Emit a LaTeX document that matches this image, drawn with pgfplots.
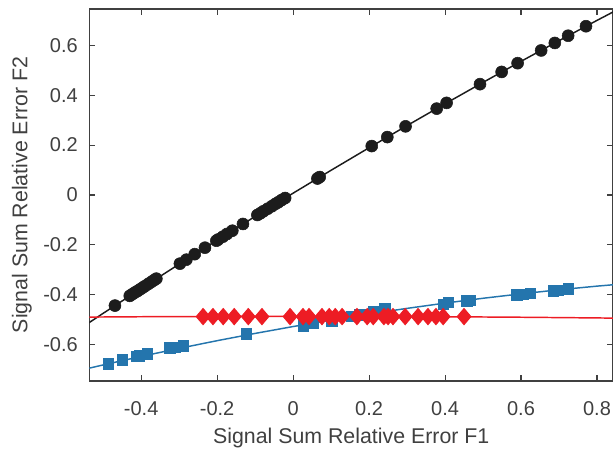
\documentclass[border=0pt]{standalone}
\usepackage{fontspec}
\setmainfont{Liberation Sans}
\usepackage{pgfplots}
\pgfplotsset{compat=1.18}
\definecolor{mblack}{rgb}{0.11,0.11,0.11}
\definecolor{mblue}{rgb}{0.14,0.46,0.68}
\definecolor{mred}{rgb}{0.93,0.11,0.14}
\definecolor{mgray}{rgb}{0.25,0.25,0.25}
\pgfdeclareplotmark{mdiamond}{%
  \pgfpathmoveto{\pgfqpoint{0pt}{\pgfplotmarksize}}%
  \pgfpathlineto{\pgfqpoint{0.85\pgfplotmarksize}{0pt}}%
  \pgfpathlineto{\pgfqpoint{0pt}{-\pgfplotmarksize}}%
  \pgfpathlineto{\pgfqpoint{-0.85\pgfplotmarksize}{0pt}}%
  \pgfpathclose
  \pgfusepathqfillstroke}
\begin{document}
\begin{tikzpicture}
\begin{axis}[
  scale only axis, width=392.6pt, height=279pt,
  at={(0,0)}, anchor=south west,
  xmin=-0.536, xmax=0.842, ymin=-0.745, ymax=0.745,
  xtick={-0.4,-0.2,0,0.2,0.4,0.6,0.8},
  ytick={-0.6,-0.4,-0.2,0,0.2,0.4,0.6},
  tick align=inside, major tick length=4.5pt,
  axis line style={draw=mgray, line width=0.8pt},
  every tick/.style={draw=mgray, line width=0.8pt},
  /pgf/number format/fixed, /pgf/number format/precision=1,
  /pgf/number format/assume math mode=true,
  ticklabel style={font=\fontsize{15}{18}\selectfont, text=mgray},
  xticklabel style={anchor=center, inner sep=0pt, yshift=-20.6pt},
  yticklabel style={anchor=east, inner sep=0pt, xshift=-8.6pt},
  label style={font=\fontsize{16}{19}\selectfont, text=mgray},
  xlabel={Signal Sum Relative Error F1},
  ylabel={Signal Sum Relative Error F2},
  xlabel style={at={(axis description cs:0.5,-0.153)}, anchor=center},
  ylabel style={at={(axis description cs:-0.129,0.5)}, anchor=center},
]
% black fit
\addplot[mblack, line width=1.1pt, no markers] coordinates {
(-0.6,-0.5746) (-0.5,-0.4739) (-0.4,-0.3747) (-0.3,-0.2769) (-0.2,-0.1807)
(-0.1,-0.0860) (0,0.0073) (0.1,0.0991) (0.2,0.1893) (0.3,0.2781)
(0.4,0.3653) (0.5,0.4511) (0.6,0.5354) (0.7,0.6182) (0.8,0.6994) (0.9,0.7792)};
\addplot[only marks, mark=*, mark size=4.5pt, mark options={draw=mblack, fill=mblack}] coordinates {
(-0.469,-0.443) (-0.430,-0.404) (-0.424,-0.398) (-0.417,-0.391) (-0.410,-0.385)
(-0.403,-0.378) (-0.396,-0.371) (-0.390,-0.365) (-0.381,-0.356) (-0.373,-0.348)
(-0.366,-0.341) (-0.360,-0.335) (-0.298,-0.275) (-0.281,-0.259) (-0.259,-0.237)
(-0.232,-0.211) (-0.202,-0.183) (-0.197,-0.178) (-0.185,-0.167) (-0.174,-0.156)
(-0.160,-0.143) (-0.132,-0.116) (-0.094,-0.080) (-0.086,-0.073) (-0.078,-0.065)
(-0.067,-0.055) (-0.056,-0.045) (-0.047,-0.036) (-0.039,-0.029) (-0.030,-0.020)
(-0.021,-0.012) (0.064,0.066) (0.070,0.072) (0.207,0.196) (0.248,0.232)
(0.296,0.275) (0.378,0.346) (0.404,0.369) (0.492,0.444) (0.549,0.493)
(0.591,0.528) (0.653,0.579) (0.689,0.609) (0.724,0.638) (0.771,0.676)};
% blue fit
\addplot[mblue, line width=1.1pt, no markers] coordinates {
(-0.6,-0.7161) (-0.5,-0.6806) (-0.4,-0.6466) (-0.3,-0.6143) (-0.2,-0.5835)
(-0.1,-0.5544) (0,-0.5269) (0.1,-0.5010) (0.2,-0.4767) (0.3,-0.4541)
(0.4,-0.4330) (0.5,-0.4136) (0.6,-0.3959) (0.7,-0.3796) (0.8,-0.3650) (0.9,-0.3521)};
\addplot[only marks, mark=square*, mark size=3.9pt, mark options={draw=mblue, fill=mblue, line width=0.6pt}] coordinates {
(-0.487,-0.676) (-0.450,-0.660) (-0.412,-0.647) (-0.404,-0.645) (-0.383,-0.637)
(-0.324,-0.613) (-0.310,-0.611) (-0.289,-0.604) (-0.123,-0.557) (0.027,-0.524)
(0.053,-0.513) (0.102,-0.507) (0.154,-0.487) (0.176,-0.480) (0.211,-0.467)
(0.242,-0.456) (0.396,-0.437) (0.409,-0.429) (0.457,-0.424) (0.466,-0.423)
(0.589,-0.400) (0.606,-0.397) (0.624,-0.393) (0.685,-0.384) (0.698,-0.383)
(0.724,-0.376)};
% red fit
\addplot[mred, line width=1.1pt, no markers] coordinates {
(-0.6,-0.4896) (-0.4,-0.4876) (-0.2,-0.4864) (0,-0.4860) (0.2,-0.4864)
(0.4,-0.4876) (0.6,-0.4896) (0.8,-0.4924) (0.9,-0.4941)};
\addplot[only marks, mark=mdiamond, mark size=6pt, mark options={draw=mred, fill=mred, line width=0.8pt}] coordinates {
(-0.237,-0.487) (-0.211,-0.487) (-0.184,-0.487) (-0.155,-0.487) (-0.118,-0.487)
(-0.082,-0.487) (-0.008,-0.487) (0.026,-0.487) (0.042,-0.487) (0.076,-0.487)
(0.095,-0.487) (0.111,-0.487) (0.129,-0.487) (0.168,-0.487) (0.195,-0.487)
(0.211,-0.487) (0.239,-0.487) (0.250,-0.487) (0.263,-0.487) (0.295,-0.487)
(0.329,-0.487) (0.355,-0.487) (0.376,-0.487) (0.395,-0.487) (0.450,-0.487)};
\end{axis}
\pgfresetboundingbox
\path[use as bounding box] (-67.125pt,-51.75pt) rectangle (394.125pt,285.75pt);
\end{tikzpicture}
\end{document}
